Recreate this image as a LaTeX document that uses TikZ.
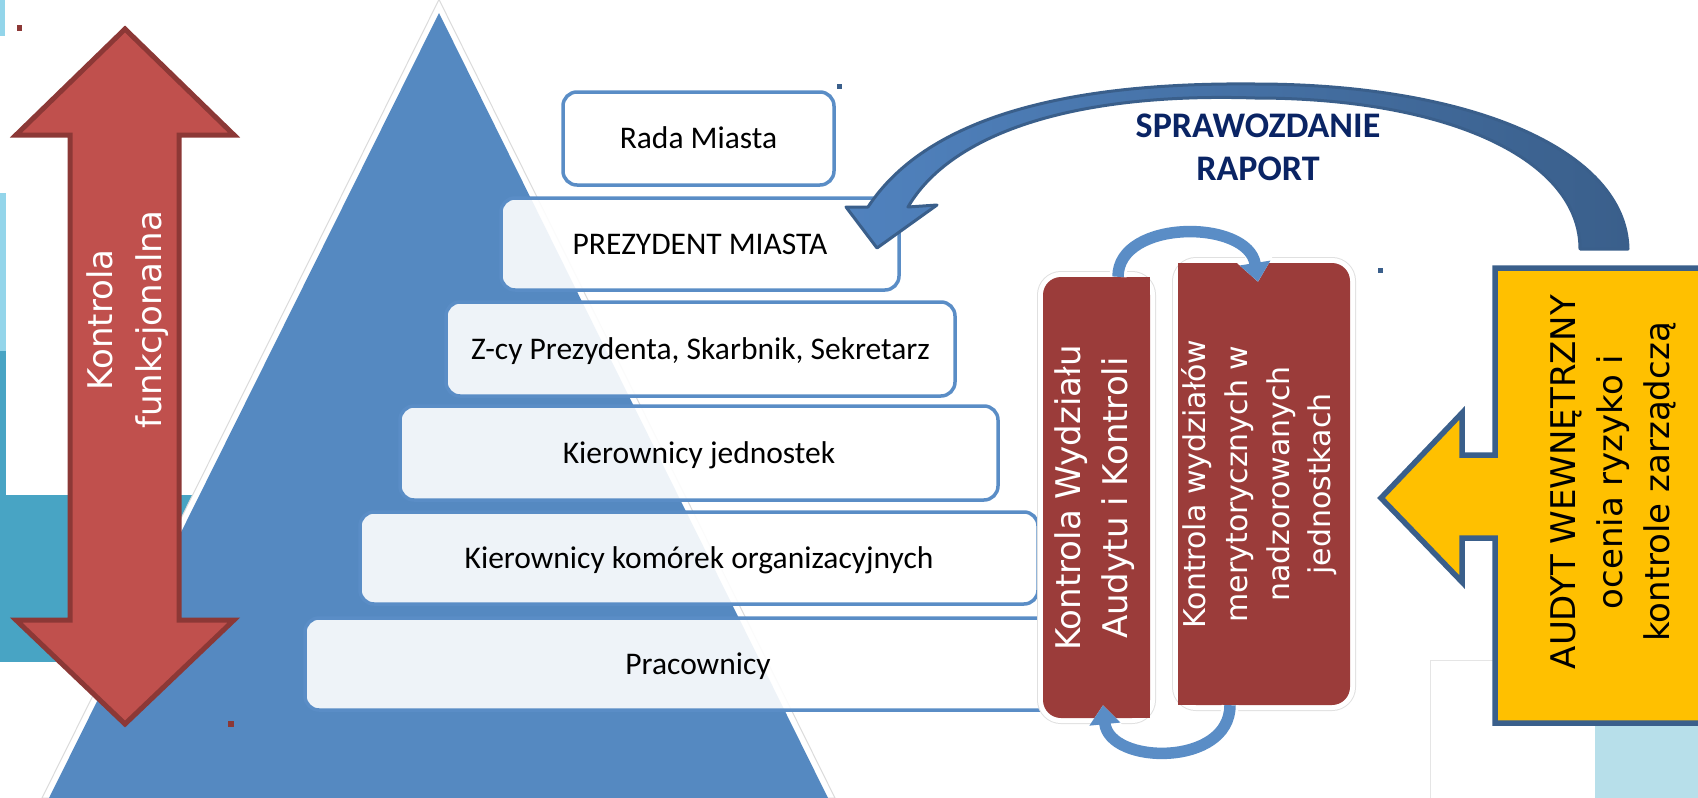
\documentclass[tikz,border=0pt]{standalone}
\usepackage{fontspec}
\setmainfont{Carlito}
\newfontfamily\dejavu{DejaVu Sans}
\usepackage{graphicx}
\usetikzlibrary{arrows.meta}

\definecolor{triblue}{RGB}{85,137,193}
\definecolor{boxblue}{RGB}{90,141,198}
\definecolor{arrred}{RGB}{192,80,77}
\definecolor{arrredd}{RGB}{140,56,54}
\definecolor{kontred}{RGB}{155,60,58}
\definecolor{audgold}{RGB}{255,192,0}
\definecolor{darkblue}{RGB}{58,95,139}
\definecolor{raportblue}{RGB}{80,130,190}
\definecolor{navy}{RGB}{10,36,100}
\definecolor{lightcyan}{RGB}{147,213,234}
\definecolor{bgteal}{RGB}{72,164,196}
\definecolor{paleblue}{RGB}{183,223,234}

\begin{document}
\begin{tikzpicture}[x=1pt,y=-1pt,
  level/.style={draw=boxblue,line width=3.5pt,fill=white,fill opacity=.9,text opacity=1,rounded corners=14pt,inner sep=0pt,font=\fontsize{31.5}{36}\selectfont,text height=20pt,text depth=0pt},
  kontr/.style={fill=kontred,rounded corners=18pt,inner sep=0pt,preaction={draw=black!12,line width=12pt},preaction={draw=white,line width=10pt}},
  vtext/.style={inner sep=0pt,text=white,font=\dejavu\fontsize{34}{47}\selectfont},
  cyclearc/.style={draw=boxblue,line width=11.5pt,-{Triangle[width=30pt,length=19pt]},preaction={draw=white,line width=17pt,-{Triangle[width=39pt,length=25pt]}}}]
\useasboundingbox (0,0) rectangle (1698,798);

\fill[lightcyan] (0,0) rectangle (5,36);
\fill[lightcyan] (0,193) rectangle (6,351);
\fill[bgteal] (0,351) rectangle (6,495);
\fill[bgteal] (0,495) rectangle (230,662);
\filldraw[fill=white,draw=black!10] (1430,660) rectangle (1720,820);
\fill[paleblue] (1595,725) rectangle (1720,820);

\filldraw[fill=white,draw=black!14,line width=1pt] (439,-0.5) -- (42,798) -- (835,798) -- cycle;
\fill[triblue] (439,13) -- (49,798) -- (828,798) -- cycle;

\filldraw[fill=arrred,draw=arrredd,line width=5pt] (125,29) -- (234,135) -- (179,135) -- (179,620) -- (234,620) -- (125,724) -- (16,620) -- (70,620) -- (70,135) -- (16,135) -- cycle;
\node[vtext,font=\dejavu\fontsize{34}{49}\selectfont] (funk) at (127,320) {\rotatebox{90}{\begin{tabular}{@{}c@{}}Kontrola\\funkcjonalna\end{tabular}}};

\node[level,minimum width=271pt,minimum height=93pt] (rada) at (698.5,138.5) {Rada Miasta};
\node[level,minimum width=398pt,minimum height=92pt] (prezydent) at (700,244) {PREZYDENT MIASTA};
\node[level,minimum width=509pt,minimum height=94pt] (zcy) at (700.5,349) {Z-cy Prezydenta, Skarbnik, Sekretarz};
\node[level,minimum width=598pt,minimum height=94pt] (kj) at (699,453) {Kierownicy jednostek};
\node[level,minimum width=678pt,minimum height=92pt] (kk) at (699,558) {Kierownicy komórek organizacyjnych};
\node[level,minimum width=786pt,minimum height=92pt] (prac) at (698,664) {Pracownicy};

\node[kontr,minimum width=107pt,minimum height=441pt] (kwak) at (1096.5,497.5) {};
\fill[kontred] (kwak.north) rectangle (kwak.south east);
\node[vtext] (kwaktext) at (1095,498) {\rotatebox{90}{\begin{tabular}{@{}c@{}}Kontrola Wydziału\\Audytu i Kontroli\end{tabular}}};
\node[kontr,minimum width=172pt,minimum height=442pt] (kwm) at (1264,484) {};
\fill[kontred] (kwm.north west) rectangle (kwm.south);
\node[vtext,font=\dejavu\fontsize{30}{41.7}\selectfont] (kwmtext) at (1260,484) {\rotatebox{90}{\begin{tabular}{@{}c@{}}Kontrola wydziałów\\merytorycznych w\\nadzorowanych\\jednostkach\end{tabular}}};

\draw[cyclearc] ([xshift=21.5pt]kwak.north) .. controls +(0,-58) and +(-10,-63) .. ([xshift=-6pt,yshift=-19pt]kwm.north);
\draw[cyclearc] ([xshift=-34pt]kwm.south) .. controls +(0,62) and +(6,60) .. ([xshift=6.5pt,yshift=13pt]kwak.south);

\filldraw[fill=audgold,draw=darkblue,line width=5.5pt] (1720,268) -- (1495,268) -- (1495,455) -- (1462,455) -- (1462,413) -- (1381,498) -- (1462,582) -- (1462,538) -- (1495,538) -- (1495,723) -- (1720,723) -- cycle;
\node[vtext,text=black] (audyt) at (1613,482) {\rotatebox{90}{\begin{tabular}{@{}c@{}}AUDYT WEWNĘTRZNY\\ocenia ryzyko i\\kontrole zarządczą\end{tabular}}};

\filldraw[draw=darkblue,line width=3pt,left color=raportblue,right color=darkblue,line join=round]
  (1628,249) .. controls (1626,150) and (1470,84) .. (1255,84)
  .. controls (1060,82) and (925,120) .. (868,207)
  -- (846,207) -- (877,248) -- (937,205) -- (908,207)
  .. controls (950,135) and (1070,92) .. (1255,98)
  .. controls (1450,98) and (1580,160) .. (1580,249) -- cycle;
\node[font=\bfseries\fontsize{36}{43}\selectfont,text=navy,align=center] (raport) at (1258,147) {SPRAWOZDANIE\\RAPORT};

\fill[arrredd] (17,25) rectangle (22,31);
\fill[arrredd] (228,721) rectangle (234,727);
\fill[darkblue] (837,84) rectangle (842,89);
\fill[darkblue] (1378,268) rectangle (1383,273);
\end{tikzpicture}
\end{document}
